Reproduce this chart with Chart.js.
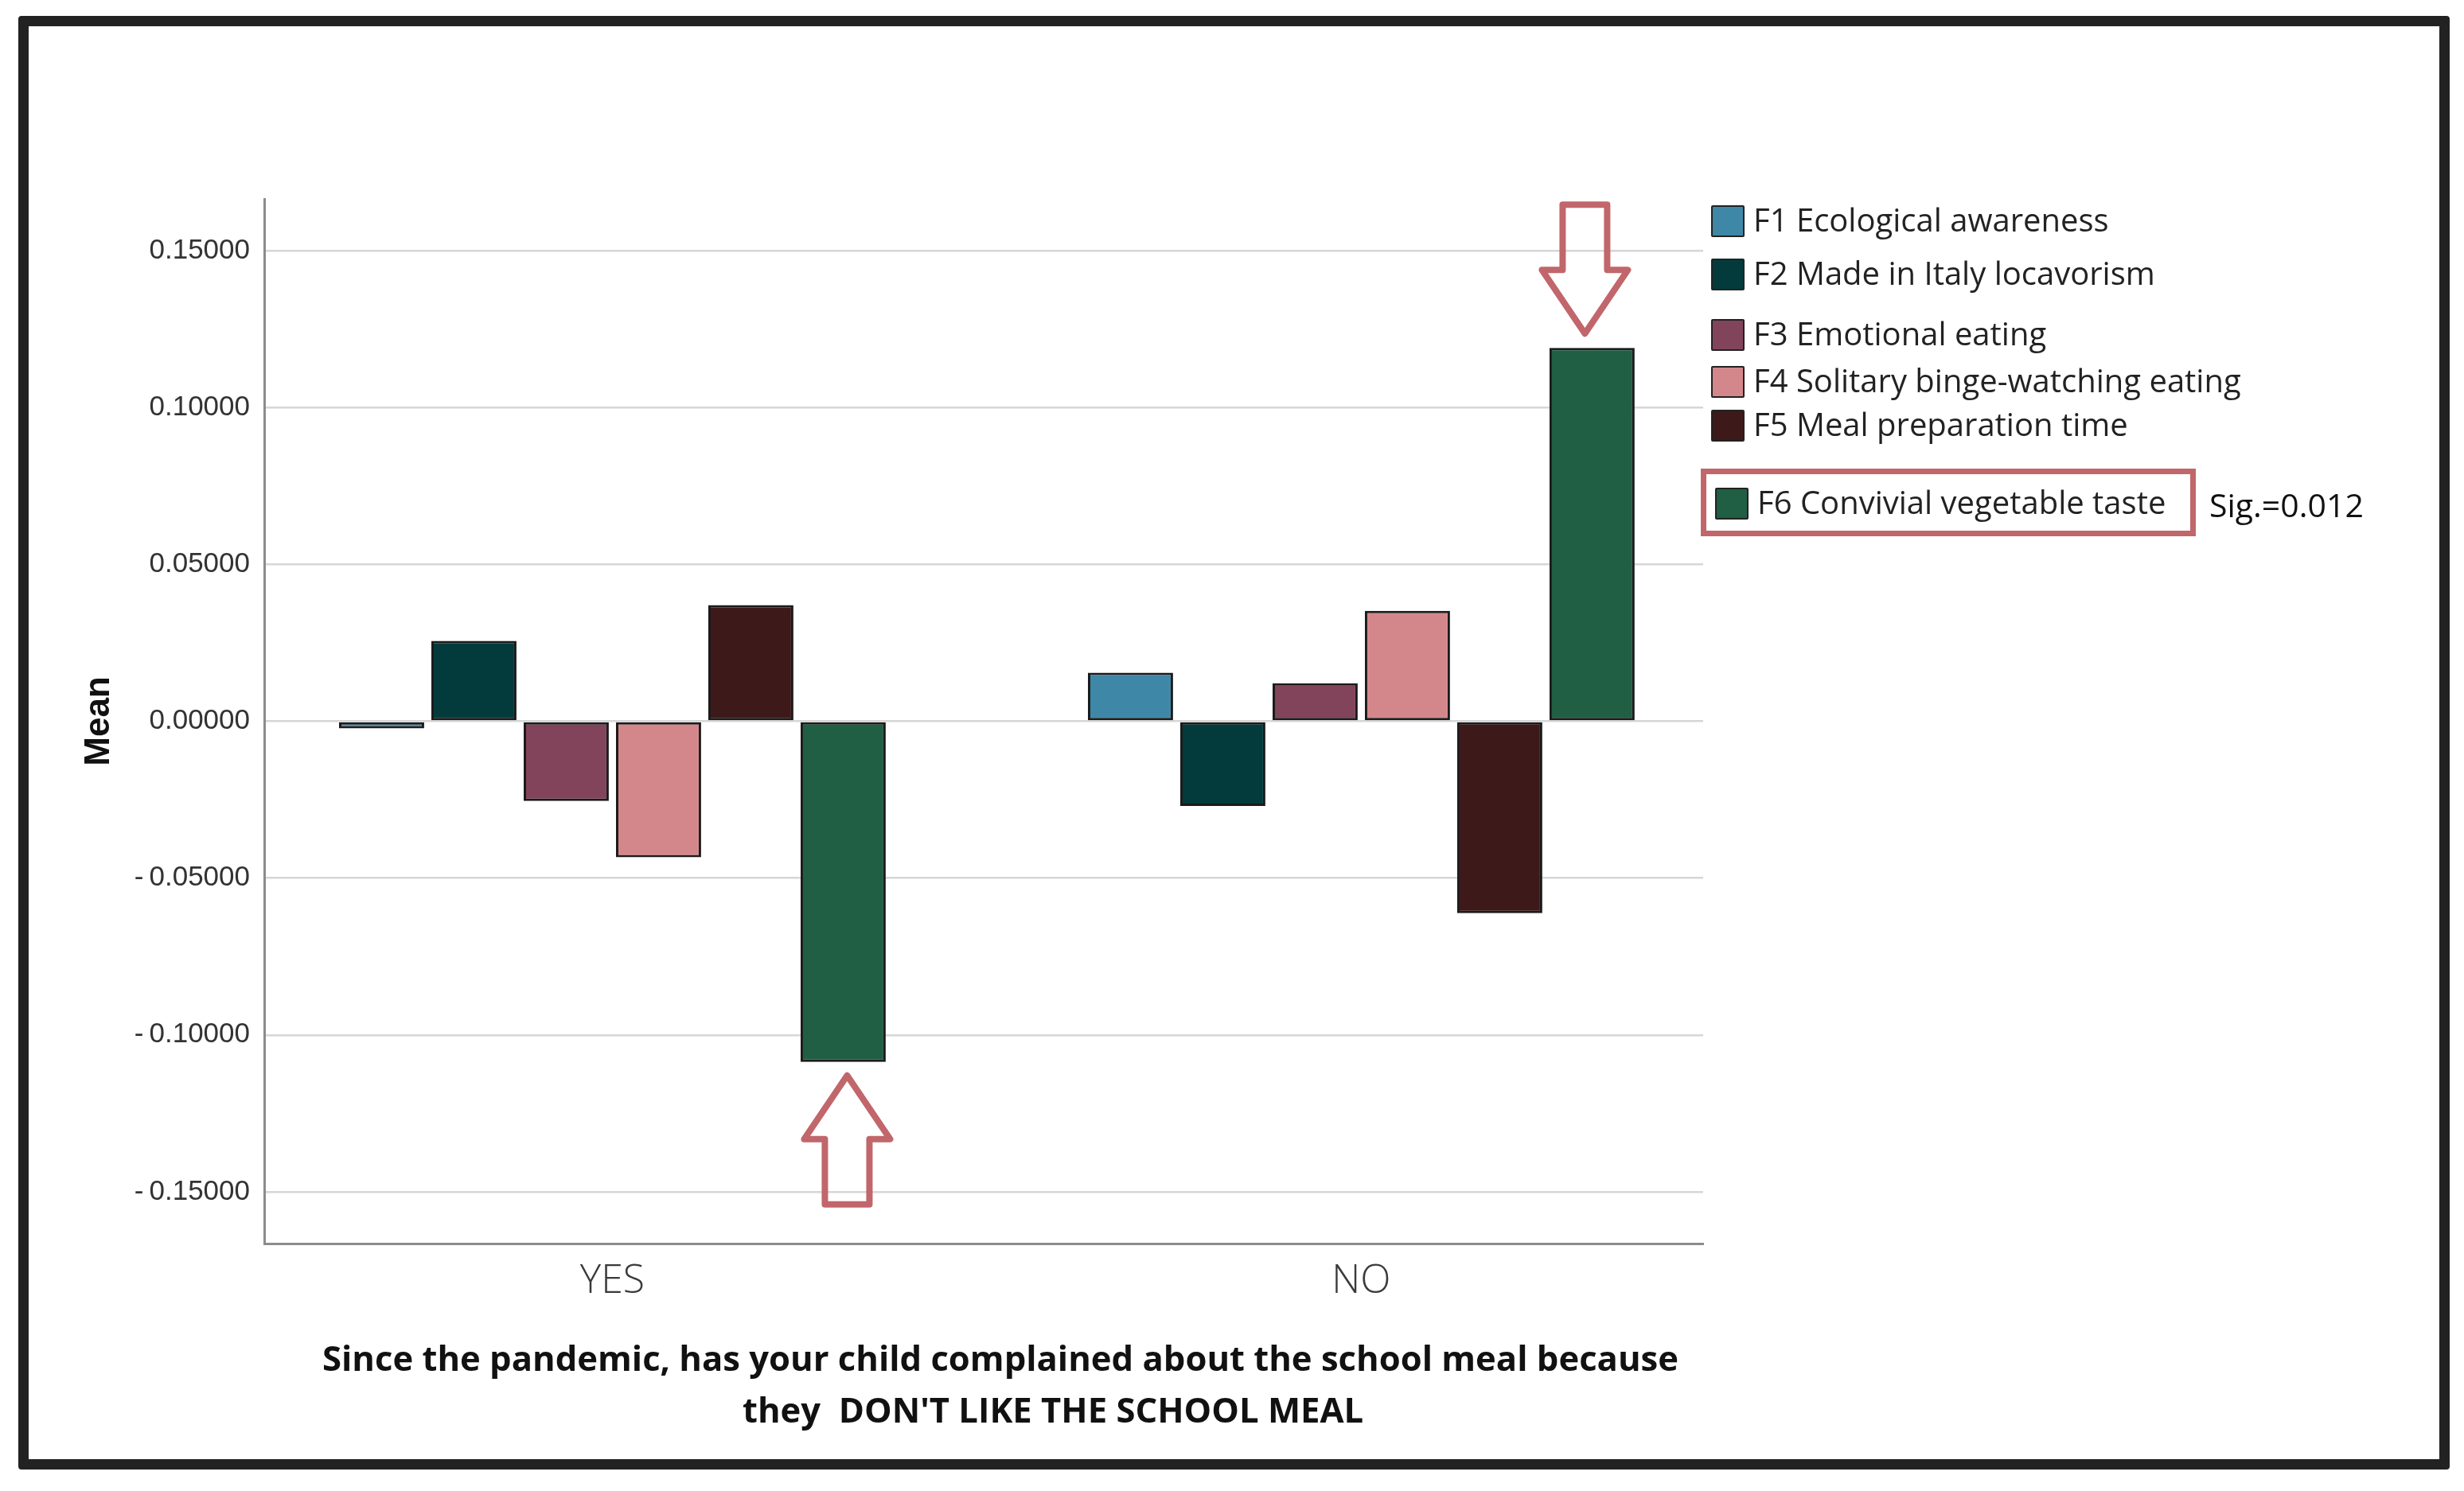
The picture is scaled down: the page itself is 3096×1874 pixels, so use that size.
<!DOCTYPE html>
<html>
<head>
<meta charset="utf-8">
<script src="https://cdn.jsdelivr.net/npm/chart.js@4.4.1/dist/chart.umd.min.js"></script>
<style>
  html, body { margin: 0; padding: 0; background: #fff; }
  #wrap { position: relative; width: 3096px; height: 1874px; overflow: hidden; background: #fff; }
  #frame { position: absolute; left: 23px; top: 20px; width: 3029px; height: 1801px;
           border: 13px solid #222; border-radius: 4px; }
  #myChart { position: absolute; left: 0; top: 0; }
  .lg-box { position: absolute; width: 42px; height: 40px; box-sizing: border-box;
            border: 2px solid #222; border-radius: 2px; }
  .lg-text { position: absolute; font-family: "Open Sans", sans-serif; font-size: 40px;
             color: #222; white-space: nowrap; line-height: 1; }
  #sigBox { position: absolute; left: 2137px; top: 589px; width: 622px; height: 85px;
            box-sizing: border-box; border: 7px solid #c1666b; }
  #sig { position: absolute; left: 2776px; top: 614px; font-family: "Open Sans", sans-serif;
         font-size: 41px; color: #111; line-height: 1; white-space: nowrap; }
  .xtitle { position: absolute; font-family: "Open Sans", sans-serif; font-weight: bold;
            font-size: 43.6px; color: #111; white-space: pre; line-height: 1; }
</style>
</head>
<body>
<div id="wrap">
  <div id="frame"></div>
  <canvas id="myChart" width="3096" height="1874"></canvas>
  <div id="legend"></div>
  <div id="sigBox"></div>
  <div id="sig"></div>
  <div class="xtitle" id="xt1" style="left:405px; top:1685px;"></div>
  <div class="xtitle" id="xt2" style="left:933px; top:1750px;"></div>
</div>
<script>
var groups = ["YES", "NO"];
var factorNames = ["F1 Ecological awareness", "F2 Made in Italy locavorism", "F3 Emotional eating",
                   "F4 Solitary binge-watching eating", "F5 Meal preparation time", "F6 Convivial vegetable taste"];
var f1Means = [-0.0023, 0.0155];
var f2Means = [0.0256, -0.0270];
var f3Means = [-0.0254, 0.0121];
var f4Means = [-0.0434, 0.0352];
var f5Means = [0.0370, -0.0612];
var f6Means = [-0.1086, 0.1190];
var yTicks = [-0.15, -0.10, -0.05, 0, 0.05, 0.10, 0.15];
var sigText = "Sig.=0.012";
var xTitleLines = ["Since the pandemic, has your child complained about the school meal because",
                   "they  DON'T LIKE THE SCHOOL MEAL"];
var barColors = ["#3f87a7", "#033b3c", "#81445a", "#d4878b", "#3e191a", "#215f44"];

var allMeans = [f1Means, f2Means, f3Means, f4Means, f5Means, f6Means];

// legend rows are not evenly spaced in the original
var legendRowY = [278, 345, 421, 480, 535, 633];

var legend = document.getElementById("legend");
factorNames.forEach(function (name, i) {
  var left = i === 5 ? 2155 : 2150;
  var box = document.createElement("div");
  box.className = "lg-box";
  box.style.left = left + "px";
  box.style.top = (legendRowY[i] - 20) + "px";
  box.style.background = barColors[i];
  legend.appendChild(box);
  var txt = document.createElement("div");
  txt.className = "lg-text";
  txt.style.left = (left + 53) + "px";
  txt.style.top = (legendRowY[i] - 22) + "px";
  txt.textContent = name;
  legend.appendChild(txt);
});
document.getElementById("sig").textContent = sigText;
document.getElementById("xt1").textContent = xTitleLines[0];
document.getElementById("xt2").textContent = xTitleLines[1];

// outlined arrows pointing at the F6 bars
var arrowPlugin = {
  id: "arrows",
  afterDraw: function (chart) {
    var ctx = chart.ctx;
    var meta = chart.getDatasetMeta(5);
    meta.data.forEach(function (bar) {
      var up = bar.y > bar.base;      // negative bar -> arrow below, pointing up
      var s = up ? 1 : -1;
      var x = bar.x + (up ? 5 : -9);
      var tip = up ? bar.y + 17 : bar.y - 18;
      var head = 80, len = 162, hw = 54, sw = 28;
      ctx.save();
      ctx.beginPath();
      ctx.moveTo(x, tip);
      ctx.lineTo(x + hw, tip + s * head);
      ctx.lineTo(x + sw, tip + s * head);
      ctx.lineTo(x + sw, tip + s * len);
      ctx.lineTo(x - sw, tip + s * len);
      ctx.lineTo(x - sw, tip + s * head);
      ctx.lineTo(x - hw, tip + s * head);
      ctx.closePath();
      ctx.lineWidth = 8;
      ctx.lineJoin = "round";
      ctx.strokeStyle = "#c1666b";
      ctx.stroke();
      ctx.restore();
    });
  }
};

new Chart("myChart", {
  type: "bar",
  data: {
    datasets: factorNames.map(function (name, i) {
      return {
        label: name,
        data: groups.map(function (g, j) { return { x: j, y: allMeans[i][j] }; }),
        backgroundColor: barColors[i],
        borderColor: "#1b1b1b",
        borderWidth: 3,
        borderSkipped: false,
        categoryPercentage: 0.7396,
        barPercentage: 0.922
      };
    })
  },
  options: {
    responsive: false,
    devicePixelRatio: 1,
    animation: false,
    layout: { padding: { left: 0, top: 250, right: 956, bottom: 211 } },
    plugins: {
      legend: { display: false },
      tooltip: { enabled: false }
    },
    scales: {
      x: {
        type: "linear",
        offset: false,
        min: -0.4649,
        max: 1.4565,
        afterBuildTicks: function (scale) {
          scale.ticks = groups.map(function (g, j) { return { value: j }; });
        },
        afterFit: function (scale) { scale.height = 100; },
        grid: { display: false, drawTicks: false },
        border: { display: true, color: "#8c8c8c", width: 3 },
        ticks: {
          padding: 18,
          color: "#3a3a3a",
          font: { family: "Open Sans", size: 50, weight: 300, lineHeight: 1.2 },
          callback: function (v) { return groups[v] !== undefined ? groups[v] : ""; }
        }
      },
      y: {
        min: -0.1665,
        max: 0.1665,
        afterBuildTicks: function (scale) {
          scale.ticks = yTicks.map(function (v) { return { value: v }; });
        },
        afterFit: function (scale) { scale.width = 332; },
        grid: { color: "#d6d6d6", lineWidth: 2.5, drawTicks: false },
        border: { display: true, color: "#8c8c8c", width: 3 },
        ticks: {
          padding: 18,
          color: "#333",
          font: { family: "Liberation Sans", size: 35 },
          callback: function (v) {
            return v < 0 ? "-\u2009" + Math.abs(v).toFixed(5) : v.toFixed(5);
          }
        },
        title: {
          display: true,
          text: "Mean",
          color: "#111",
          font: { family: "Liberation Sans", size: 44, weight: "bold", lineHeight: 1.2 },
          padding: { top: 98, bottom: 0 }
        }
      }
    }
  },
  plugins: [arrowPlugin]
});
</script>
</body>
</html>
